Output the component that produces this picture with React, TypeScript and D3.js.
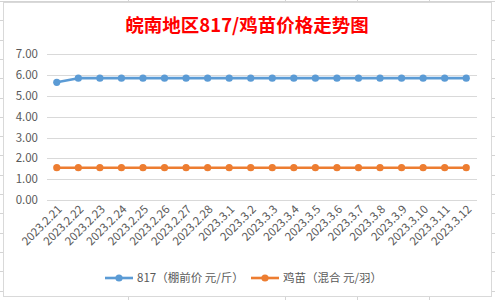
import React from "react";
import * as d3 from "d3";

const categories = [
  "2023.2.21", "2023.2.22", "2023.2.23", "2023.2.24", "2023.2.25", "2023.2.26",
  "2023.2.27", "2023.2.28", "2023.3.1", "2023.3.2", "2023.3.3", "2023.3.4",
  "2023.3.5", "2023.3.6", "2023.3.7", "2023.3.8", "2023.3.9", "2023.3.10",
  "2023.3.11", "2023.3.12",
];
const price817 = [5.65, 5.85, 5.85, 5.85, 5.85, 5.85, 5.85, 5.85, 5.85, 5.85, 5.85, 5.85, 5.85, 5.85, 5.85, 5.85, 5.85, 5.85, 5.85, 5.85];
const chickPrice = [1.55, 1.55, 1.55, 1.55, 1.55, 1.55, 1.55, 1.55, 1.55, 1.55, 1.55, 1.55, 1.55, 1.55, 1.55, 1.55, 1.55, 1.55, 1.55, 1.55];
const yTicks = [0, 1, 2, 3, 4, 5, 6, 7];
const seriesNames = ["817（棚前价 元/斤）", "鸡苗（混合 元/羽）"];
const title = "皖南地区817/鸡苗价格走势图";

const W = 495, H = 300;
const colors = ["#5B9BD5", "#ED7D31"];
const font = "'Noto Sans CJK SC', 'Microsoft YaHei', sans-serif";

export default function App() {
  const x = d3.scaleBand<string>().domain(categories).range([46, 477]);
  const y = d3.scaleLinear().domain([0, 7]).range([200, 54.2]);
  const cx = (c: string) => (x(c) as number) + x.bandwidth() / 2;
  const line = d3.line<number>().x((_, i) => cx(categories[i])).y((d) => y(d));
  const series = [price817, chickPrice];
  const sheetCols = [128, 285, 357, 429];
  const sheetRows = d3.range(1, 300, 19.3);

  return (
    <svg width={W} height={H} style={{ position: "absolute", left: 0, top: 0, display: "block" }}>
      <rect x={0} y={0} width={W} height={H} fill="#ffffff" />
      {sheetCols.map((c) => (
        <line key={"c" + c} x1={c + 0.5} x2={c + 0.5} y1={0} y2={H} stroke="#d4d4d4" />
      ))}
      {sheetRows.map((r, i) => (
        <line key={"r" + i} x1={0} x2={W} y1={Math.round(r) + 0.5} y2={Math.round(r) + 0.5} stroke="#d4d4d4" />
      ))}
      <rect x={3.5} y={2.5} width={488} height={294} fill="#ffffff" stroke="#d9d9d9" />
      <text x={247} y={31.5} textAnchor="middle" fill="#ff0000" fontFamily={font} fontWeight="bold" fontSize={18.5}>
        {title}
      </text>
      {yTicks.map((t) => (
        <g key={t}>
          <line x1={47} x2={477} y1={Math.round(y(t)) + 0.5} y2={Math.round(y(t)) + 0.5} stroke="#d9d9d9" />
          <text x={38} y={y(t) + 4} textAnchor="end" fill="#595959" fontFamily={font} fontSize={11.5}>
            {d3.format(".2f")(t)}
          </text>
        </g>
      ))}
      {categories.map((c) => (
        <text
          key={c}
          transform={`translate(${cx(c) + 6},${210}) rotate(-45)`}
          textAnchor="end"
          fill="#595959"
          fontFamily={font}
          fontSize={11.5}
        >
          {c}
        </text>
      ))}
      {series.map((s, k) => (
        <g key={k}>
          <path d={line(s) || ""} fill="none" stroke={colors[k]} strokeWidth={2.6} strokeLinejoin="round" />
          {s.map((v, i) => (
            <circle key={i} cx={cx(categories[i])} cy={y(v)} r={3.6} fill={colors[k]} />
          ))}
        </g>
      ))}
      {seriesNames.map((n, k) => {
        const lx = k === 0 ? 105 : 251;
        return (
          <g key={n}>
            <line x1={lx} x2={lx + 28} y1={278} y2={278} stroke={colors[k]} strokeWidth={2.6} />
            <circle cx={lx + 14} cy={278} r={3.6} fill={colors[k]} />
            <text x={lx + 32} y={282} fill="#595959" fontFamily={font} fontSize={11.5}>
              {n}
            </text>
          </g>
        );
      })}
    </svg>
  );
}
